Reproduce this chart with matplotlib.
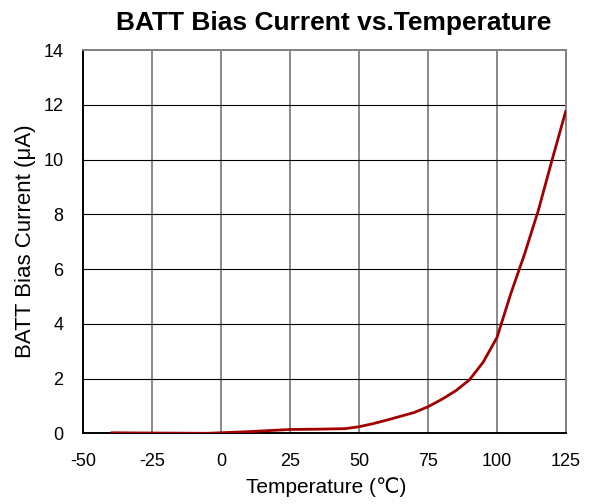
import matplotlib
matplotlib.use("Agg")
import matplotlib.pyplot as plt

plt.rcParams['font.family'] = ['Liberation Sans', 'DejaVu Sans']

temperature = [-40, -25, -5, 0, 10, 25, 35, 45, 50, 55, 60, 65, 70, 75, 80, 85, 90, 95, 100, 105, 110, 115, 120, 125]
bias_current = [0.02, 0.01, 0.0, 0.02, 0.06, 0.14, 0.15, 0.17, 0.24, 0.35, 0.48, 0.62, 0.76, 0.97, 1.24, 1.55, 1.95, 2.6, 3.5, 5.1, 6.55, 8.15, 10.0, 11.8]

x_ticks = [-50, -25, 0, 25, 50, 75, 100, 125]
y_ticks = [0, 2, 4, 6, 8, 10, 12, 14]

W, H = 594, 504
fig = plt.figure(figsize=(W/100, H/100), dpi=100)
ax = fig.add_axes([83/W, 1 - 433.3/H, (566-83)/W, (433.3-50)/H])

ax.set_xlim(-50, 125)
ax.set_ylim(0, 14)
ax.set_xticks(x_ticks)
ax.set_yticks(y_ticks)
ax.set_xticklabels([str(v) for v in x_ticks])
ax.set_yticklabels([str(v) for v in y_ticks])

for xv in x_ticks[1:-1]:
    ax.axvline(xv, color='#808080', lw=1.3, zorder=1)
for yv in y_ticks[1:-1]:
    ax.axhline(yv, color='#000000', lw=0.8, zorder=1)

ax.plot(temperature, bias_current, color='#A00000', lw=2.0, zorder=3,
        solid_capstyle='butt', solid_joinstyle='round')

for side in ['left', 'bottom']:
    ax.spines[side].set_color('black')
    ax.spines[side].set_linewidth(1.4)
for side in ['top', 'right']:
    ax.spines[side].set_color('#808080')
    ax.spines[side].set_linewidth(1.4)

ax.tick_params(axis='both', length=0, labelsize=13, pad=14)

fig.text(326.5/W, 1 - 487/H, 'Temperature (℃)', fontsize=15, ha='center', va='center')
fig.text(26/W, 1 - 241.5/H, 'BATT Bias Current (μA)', fontsize=16, ha='center', va='center',
         rotation=90)
fig.text(334/W, 1 - 23/H, 'BATT Bias Current vs.Temperature', fontsize=19, fontweight='bold',
         ha='center', va='center')

fig.savefig('out.png', dpi=100)
